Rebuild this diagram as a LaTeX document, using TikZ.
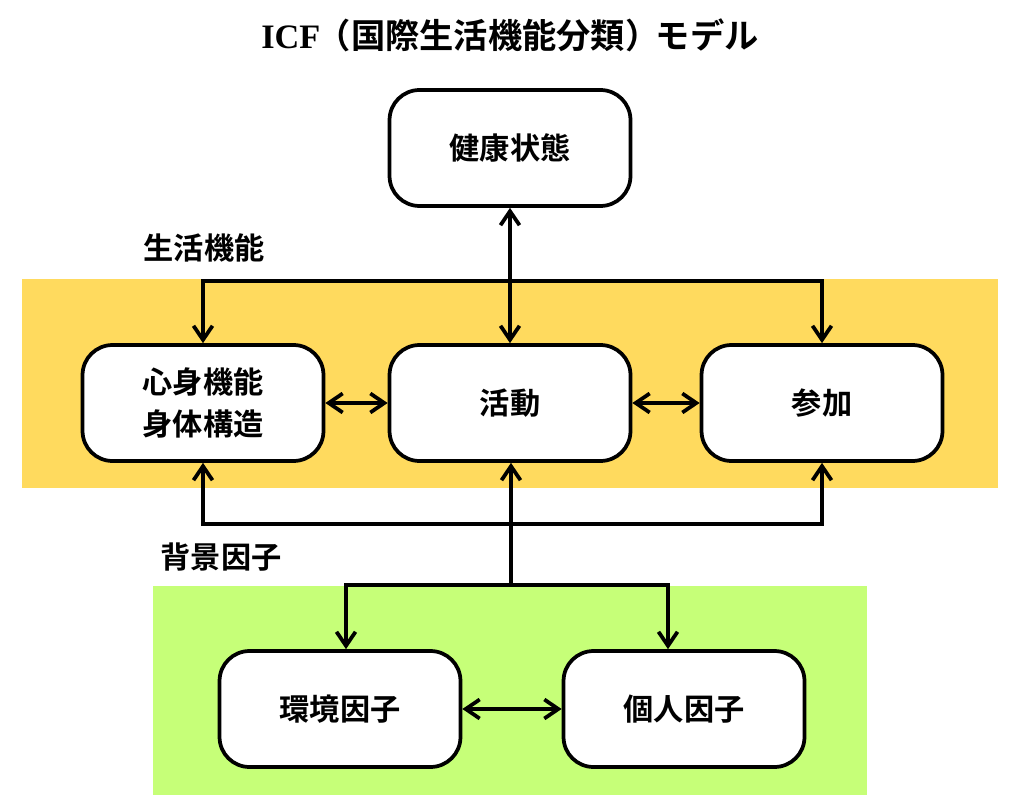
\documentclass[tikz,border=0pt]{standalone}
\usepackage{fontspec}
\setmainfont{Noto Sans CJK JP}[UprightFont=* Bold]
\newfontfamily\latinbold{Liberation Serif}[UprightFont=* Bold]
\usetikzlibrary{arrows.meta}
\definecolor{bandyellow}{HTML}{FFDA5E}
\definecolor{bandgreen}{HTML}{C6FF78}
\tikzset{>={Straight Barb[length=2.8mm,width=3.8mm]},
  every node/.style={font=\fontsize{17.2}{24}\selectfont},
  stage/.style={draw,line width=.075cm,fill=white,rounded corners=.6cm,
    minimum width=4.82cm,minimum height=2.32cm,align=center},
  flow/.style={line width=.075cm,->},
  link/.style={line width=.075cm,<->}}

\begin{document}
\begin{tikzpicture}[x=.02cm,y=-.02cm]
\useasboundingbox (0,0) rectangle (1023,807);
% bands
\fill[bandyellow] (22,279) rectangle (998,488);
\fill[bandgreen] (153,586) rectangle (867,795);
% texts
\node (title) at (510,35) {\fontsize{19.5}{22}\selectfont{\latinbold ICF}\kern-2pt（国際生活機能分類）\kern-2pt モデル};
\node (lblfunc) at (204,248) {生活機能};
\node (lblctx) at (221,557) {背景因子};
% boxes
\node[stage] (health) at (510,148) {健康状態};
\node[stage] (body) at (203,403) {心身機能\\身体構造};
\node[stage] (act) at (510,403) {活動};
\node[stage] (part) at (822,403) {参加};
\node[stage] (env) at (340,709) {環境因子};
\node[stage] (pers) at (684,709) {個人因子};
\coordinate (topbar) at (510,281);
\coordinate (botbar) at (510,524);
\coordinate (ctxbar) at (511,585);
% connectors
\draw[link] (health) -- (act);
\draw[link] (body.north) |- (topbar) -| (part.north);
\draw[link] (body.south) |- (botbar) -| (part.south);
\draw[link] (body) -- (act);
\draw[link] (act) -- (part);
\draw[flow] (ctxbar) -- (act.south -| ctxbar);
\draw[link] ([xshift=.12cm]env.north) |- (ctxbar) -| ([xshift=-.32cm]pers.north);
\draw[link] (env) -- (pers);
\end{tikzpicture}
\end{document}
